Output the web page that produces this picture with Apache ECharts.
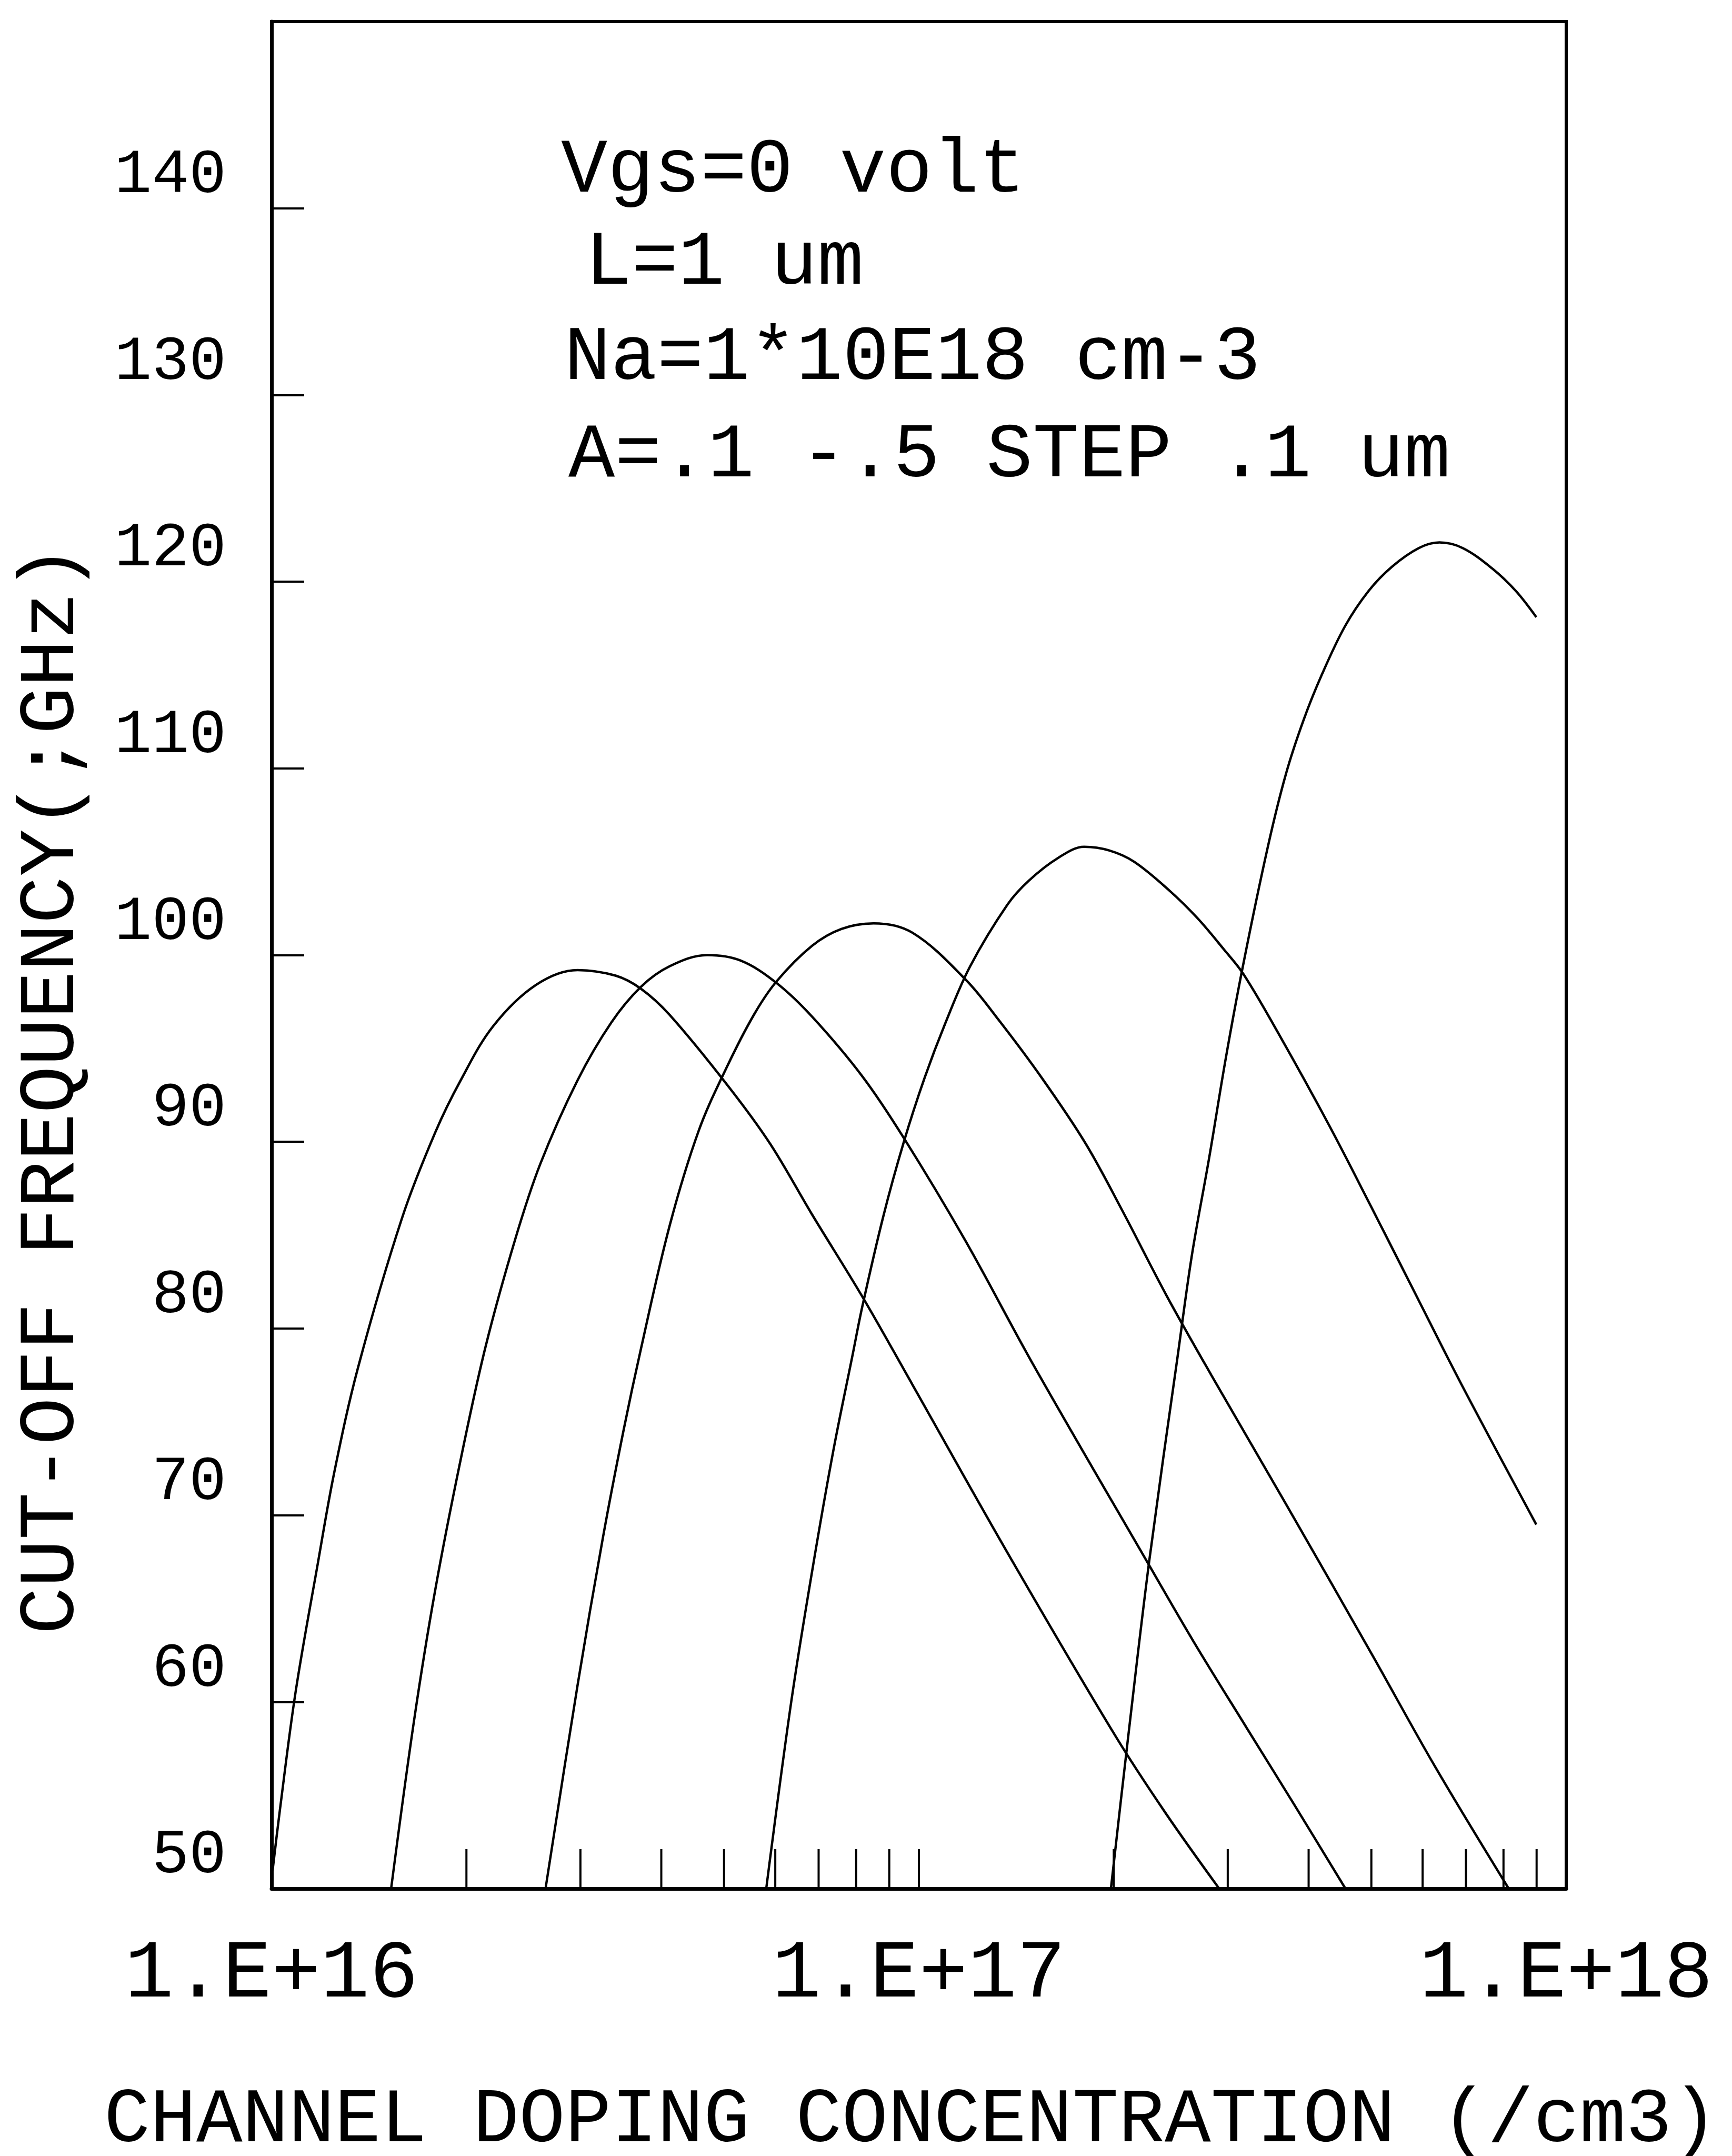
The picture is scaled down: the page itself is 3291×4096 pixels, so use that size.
<!DOCTYPE html>
<html>
<head>
<meta charset="utf-8">
<script src="https://cdn.jsdelivr.net/npm/echarts@6/dist/echarts.min.js"></script>
<style>
  html, body { margin: 0; padding: 0; background: #fff; }
  #chart { width: 3291px; height: 4096px; }
</style>
</head>
<body>
<div id="chart"></div>
<script>
// ---- data ----
const xTickLabels = ['1.E+16', '1.E+17', '1.E+18'];
const xMinorTicks = [2e16, 3e16, 4e16, 5e16, 6e16, 7e16, 8e16, 9e16, 1e17,
                     2e17, 3e17, 4e17, 5e17, 6e17, 7e17, 8e17, 9e17];
const yMin = 50, yMax = 150, yStep = 10;

const annotations = ['Vgs=0 volt', 'L=1 um', 'Na=1*10E18 cm-3', 'A=.1 -.5 STEP .1 um'];
const xTitle = 'CHANNEL DOPING CONCENTRATION (/cm3)';
const yTitle = 'CUT-OFF FREQUENCY(;GHz)';

// concentration (/cm3) and cut-off frequency (GHz) for each channel thickness
const conc1 = [1.00e16, 1.03e16, 1.09e16, 1.18e16, 1.25e16, 1.36e16, 1.59e16, 1.79e16, 1.96e16, 2.20e16, 2.56e16, 2.97e16,
               3.40e16, 3.72e16, 4.12e16, 5.07e16, 5.89e16, 6.84e16, 8.18e16, 9.77e16, 1.37e17, 2.01e17, 2.41e17, 2.91e17];
const freq1 = [50.5, 54.2, 60.6, 67.5, 72.3, 77.9, 85.9, 90.5, 93.3, 96.2, 98.4, 99.2,
               98.9, 98.2, 96.8, 93.0, 89.9, 86.1, 81.7, 77.0, 68.0, 58.2, 54.0, 50.0];

const conc2 = [1.53e16, 1.66e16, 1.79e16, 1.96e16, 2.14e16, 2.38e16, 2.60e16, 2.97e16, 3.35e16, 3.72e16, 4.12e16, 4.71e16,
               5.31e16, 6.03e16, 6.84e16, 8.18e16, 9.48e16, 1.18e17, 1.50e17, 2.27e17, 2.66e17, 3.21e17, 3.80e17, 4.56e17];
const freq2 = [50.0, 59.0, 66.0, 73.0, 79.0, 84.8, 88.8, 93.3, 96.4, 98.3, 99.4, 100.0,
               99.7, 98.5, 96.7, 93.5, 90.2, 84.7, 78.1, 67.3, 63.2, 58.6, 54.5, 50.0];

const conc3 = [2.65e16, 2.97e16, 3.25e16, 3.50e16, 3.72e16, 4.12e16, 4.57e16, 5.05e16, 5.56e16, 6.03e16, 6.84e16, 7.59e16,
               8.51e16, 9.77e16, 1.18e17, 1.33e17, 1.55e17, 1.81e17, 2.07e17, 2.41e17, 2.83e17, 3.69e17, 5.00e17, 6.28e17, 8.15e17];
const freq3 = [50.0, 60.9, 68.8, 74.6, 78.9, 85.5, 90.6, 94.0, 96.8, 98.6, 100.5, 101.4,
               101.7, 101.2, 98.7, 96.5, 93.4, 89.9, 86.2, 81.8, 77.5, 70.6, 62.6, 56.5, 50.0];

const conc4 = [5.81e16, 6.35e16, 6.84e16, 7.38e16, 7.89e16, 8.18e16, 8.81e16, 9.48e16, 1.02e17, 1.10e17, 1.20e17, 1.37e17, 1.48e17,
               1.64e17, 1.80e17, 1.97e17, 2.15e17, 2.43e17, 2.69e17, 2.96e17, 3.17e17, 3.58e17, 4.30e17, 5.00e17, 5.82e17, 6.89e17, 8.99e17];
const freq4 = [50.0, 60.0, 67.0, 73.5, 78.5, 81.2, 86.0, 90.0, 93.4, 96.4, 99.4, 102.7, 104.0,
               105.2, 105.8, 105.6, 105.0, 103.5, 102.0, 100.3, 99.0, 95.9, 90.9, 86.5, 82.0, 77.0, 69.5];

const conc5 = [1.98e17, 2.10e17, 2.27e17, 2.51e17, 2.64e17, 2.81e17, 2.98e17, 3.17e17, 3.46e17, 3.69e17, 3.93e17,
               4.19e17, 4.55e17, 4.95e17, 5.38e17, 5.92e17, 6.37e17, 6.92e17, 7.69e17, 8.36e17, 8.99e17];
const freq5 = [50.0, 57.8, 67.6, 78.5, 83.9, 89.2, 94.5, 99.5, 105.8, 109.7, 112.6,
               115.0, 117.6, 119.5, 120.8, 121.8, 122.1, 121.8, 120.7, 119.5, 118.1];

const curveNames = ['A=.5 um', 'A=.4 um', 'A=.3 um', 'A=.2 um', 'A=.1 um'];
const curveConc = [conc1, conc2, conc3, conc4, conc5];
const curveFreq = [freq1, freq2, freq3, freq4, freq5];

// ---- chart ----
const FONT = '"Liberation Mono", "DejaVu Sans Mono", monospace';
const chart = echarts.init(document.getElementById('chart'), null, { renderer: 'canvas' });

const lineSeries = curveNames.map((name, i) => ({
  name: name,
  type: 'line',
  data: curveConc[i].map((c, j) => [c, curveFreq[i][j]]),
  showSymbol: false,
  smooth: 0.35,
  lineStyle: { color: '#000', width: 4.5 },
  z: 2
}));

const option = {
  backgroundColor: '#fff',
  animation: false,
  grid: {
    left: 516, right: 315, top: 41, bottom: 508,
    containLabel: false,
    outerBoundsMode: 'none',
    show: true, borderColor: '#000', borderWidth: 6, backgroundColor: 'transparent'
  },
  xAxis: {
    type: 'log',
    logBase: 10,
    min: 1e16,
    max: 1e18,
    name: xTitle,
    nameLocation: 'middle',
    nameGap: 368,
    nameTextStyle: { fontFamily: FONT, fontSize: 146, color: '#000', lineHeight: 146, padding: [0, 30, 0, 0] },
    axisLine: { show: true, lineStyle: { color: '#000', width: 7 } },
    axisTick: { show: false },
    splitLine: { show: false },
    minorTick: { show: false },
    axisLabel: {
      fontFamily: FONT, fontSize: 155, color: '#000', margin: 86, lineHeight: 155,
      formatter: function (v) {
        const idx = Math.round(Math.log10(v)) - 16;
        return xTickLabels[idx] !== undefined ? xTickLabels[idx] : '';
      }
    }
  },
  yAxis: {
    type: 'value',
    min: yMin,
    max: yMax,
    interval: yStep,
    axisLine: { show: true, lineStyle: { color: '#000', width: 7 } },
    axisTick: { show: true, inside: true, length: 62, lineStyle: { color: '#000', width: 4 } },
    splitLine: { show: false },
    axisLabel: {
      fontFamily: FONT, fontSize: 118, color: '#000', margin: 86,
      verticalAlign: 'bottom', lineHeight: 124,
      formatter: function (v) { return v >= yMax ? '' : String(v); }
    }
  },
  graphic: [
    { type: 'text', x: 1066, y: 325, style: { text: annotations[0], font: '147px ' + FONT, fill: '#000', verticalAlign: 'middle' } },
    { type: 'text', x: 1112, y: 500, style: { text: annotations[1], font: '147px ' + FONT, fill: '#000', verticalAlign: 'middle' } },
    { type: 'text', x: 1072, y: 681, style: { text: annotations[2], font: '147px ' + FONT, fill: '#000', verticalAlign: 'middle' } },
    { type: 'text', x: 1080, y: 866, style: { text: annotations[3], font: '147px ' + FONT, fill: '#000', verticalAlign: 'middle' } },
    { type: 'text', x: 99, y: 2070, rotation: Math.PI / 2,
      style: { text: yTitle, font: '150px ' + FONT, fill: '#000', align: 'center', verticalAlign: 'middle' } }
  ],
  series: lineSeries.concat([{
    name: 'x minor ticks',
    type: 'custom',
    silent: true,
    z: 3,
    data: xMinorTicks.map(v => [v, yMin]),
    renderItem: function (params, api) {
      const p = api.coord([api.value(0), api.value(1)]);
      return {
        type: 'line',
        shape: { x1: p[0], y1: p[1], x2: p[0], y2: p[1] - 75 },
        style: { stroke: '#000', lineWidth: 4 }
      };
    }
  }])
};

chart.setOption(option);
</script>
</body>
</html>
